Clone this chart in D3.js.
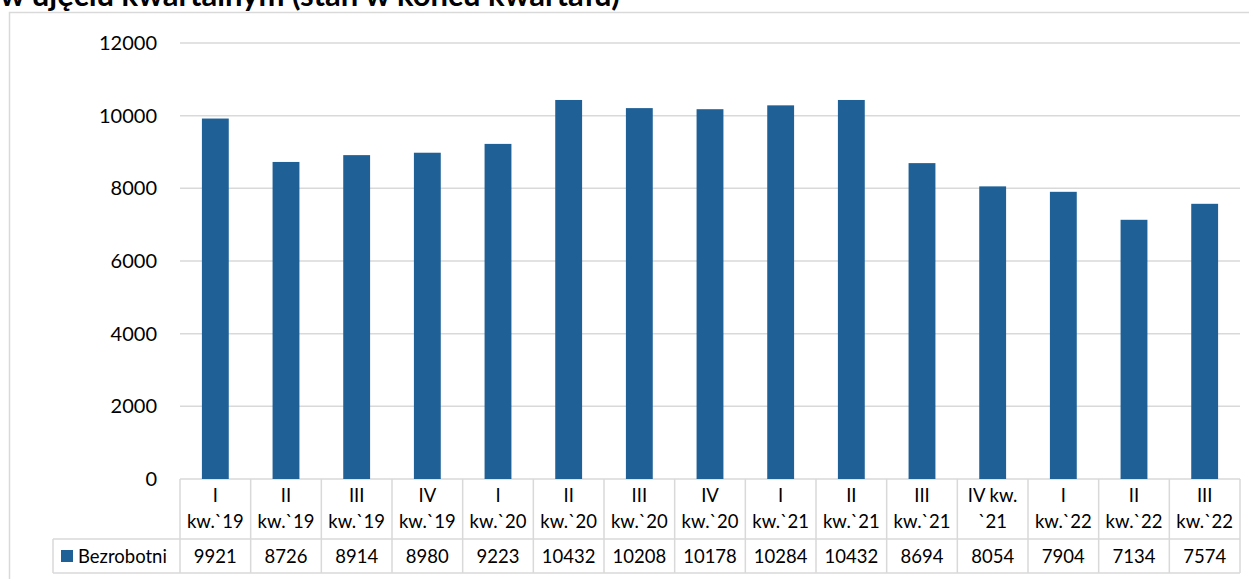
<!DOCTYPE html>
<html lang="pl">
<head>
  <meta charset="UTF-8">
  <title>Bezrobotni kwartalnie</title>
  <script src="https://d3js.org/d3.v7.min.js"></script>
  <style>
    body { margin: 0; background: #fff; }
    svg text { font-family: Lato, "Open Sans", sans-serif; fill: #000; }
  </style>
</head>
<body>
  <svg width="1249" height="579"></svg>

  <script>
    // Data
    const quarterTop = ["I", "II", "III", "IV", "I", "II", "III", "IV", "I", "II", "III", "IV kw.", "I", "II", "III"];
    const quarterBottom = ["kw.`19", "kw.`19", "kw.`19", "kw.`19", "kw.`20", "kw.`20", "kw.`20", "kw.`20",
                           "kw.`21", "kw.`21", "kw.`21", "`21", "kw.`22", "kw.`22", "kw.`22"];
    const unemployed = [9921, 8726, 8914, 8980, 9223, 10432, 10208, 10178, 10284, 10432, 8694, 8054, 7904, 7134, 7574];
    const yTicks = [0, 2000, 4000, 6000, 8000, 10000, 12000];
    const seriesName = "Bezrobotni";

    const svg = d3.select("svg");
    const gridColor = "#d9d9d9";
    const barColor = "#1f6196";

    const plot = {left: 180, right: 1240, top: 43, bottom: 479};
    const table = {legendLeft: 53, rowSplit: 539, bottom: 573};

    // Title (cut off at the top of the picture)
    svg.append("text")
      .attr("x", 0)
      .attr("y", 6)
      .style("font-weight", "bold")
      .style("font-size", "31px")
      .text("w ujęciu kwartalnym (stan w końcu kwartału)");

    // Outer chart border
    svg.append("rect")
      .attr("x", 9.5).attr("y", 12.5)
      .attr("width", 1245).attr("height", 600)
      .attr("fill", "none")
      .attr("stroke", gridColor)
      .attr("stroke-width", 1.5);

    const idx = d3.range(unemployed.length);
    const x = d3.scaleBand()
      .domain(idx)
      .range([plot.left, plot.right])
      .padding(0);

    const y = d3.scaleLinear()
      .domain([0, 12000])
      .range([plot.bottom, plot.top]);

    // Gridlines
    svg.append("g")
      .selectAll("line")
      .data(yTicks)
      .join("line")
      .attr("x1", plot.left)
      .attr("x2", plot.right)
      .attr("y1", d => y(d))
      .attr("y2", d => y(d))
      .attr("stroke", gridColor)
      .attr("stroke-width", 1.5);

    // Y axis labels
    svg.append("g")
      .selectAll("text")
      .data(yTicks)
      .join("text")
      .attr("x", 157)
      .attr("y", d => y(d))
      .attr("dy", "0.35em")
      .attr("text-anchor", "end")
      .style("font-size", "20px")
      .text(d => d);

    // Bars
    const barW = x.bandwidth() * 0.38;
    svg.append("g")
      .selectAll("rect")
      .data(unemployed)
      .join("rect")
      .attr("x", (d, i) => x(i) + (x.bandwidth() - barW) / 2)
      .attr("y", d => y(d))
      .attr("width", barW)
      .attr("height", d => y(0) - y(d))
      .attr("fill", barColor);

    // Data table lines
    const tbl = svg.append("g")
      .attr("stroke", gridColor)
      .attr("stroke-width", 1.5);

    // vertical lines between category columns
    tbl.selectAll("line.v")
      .data(d3.range(unemployed.length + 1))
      .join("line")
      .attr("class", "v")
      .attr("x1", i => i < unemployed.length ? x(i) : plot.right)
      .attr("x2", i => i < unemployed.length ? x(i) : plot.right)
      .attr("y1", plot.bottom)
      .attr("y2", table.bottom);

    tbl.append("line")
      .attr("x1", table.legendLeft).attr("x2", plot.right)
      .attr("y1", table.rowSplit).attr("y2", table.rowSplit);
    tbl.append("line")
      .attr("x1", table.legendLeft).attr("x2", plot.right)
      .attr("y1", table.bottom).attr("y2", table.bottom);
    tbl.append("line")
      .attr("x1", table.legendLeft).attr("x2", table.legendLeft)
      .attr("y1", table.rowSplit).attr("y2", table.bottom);

    // Category labels (two lines)
    const cat = svg.append("g")
      .selectAll("text")
      .data(idx)
      .join("text")
      .attr("text-anchor", "middle")
      .style("font-size", "18.5px");
    cat.append("tspan")
      .attr("x", i => x(i) + x.bandwidth() / 2)
      .attr("y", 502)
      .text(i => quarterTop[i]);
    cat.append("tspan")
      .attr("x", i => x(i) + x.bandwidth() / 2)
      .attr("y", 528)
      .text(i => quarterBottom[i]);

    // Values row
    svg.append("g")
      .selectAll("text")
      .data(unemployed)
      .join("text")
      .attr("x", (d, i) => x(i) + x.bandwidth() / 2)
      .attr("y", 563)
      .attr("text-anchor", "middle")
      .style("font-size", "18.5px")
      .text(d => d);

    // Legend key in the table
    svg.append("rect")
      .attr("x", 61).attr("y", 550)
      .attr("width", 12).attr("height", 12)
      .attr("fill", barColor);
    svg.append("text")
      .attr("x", 78).attr("y", 563)
      .style("font-size", "18.5px")
      .text(seriesName);
  </script>
</body>
</html>
